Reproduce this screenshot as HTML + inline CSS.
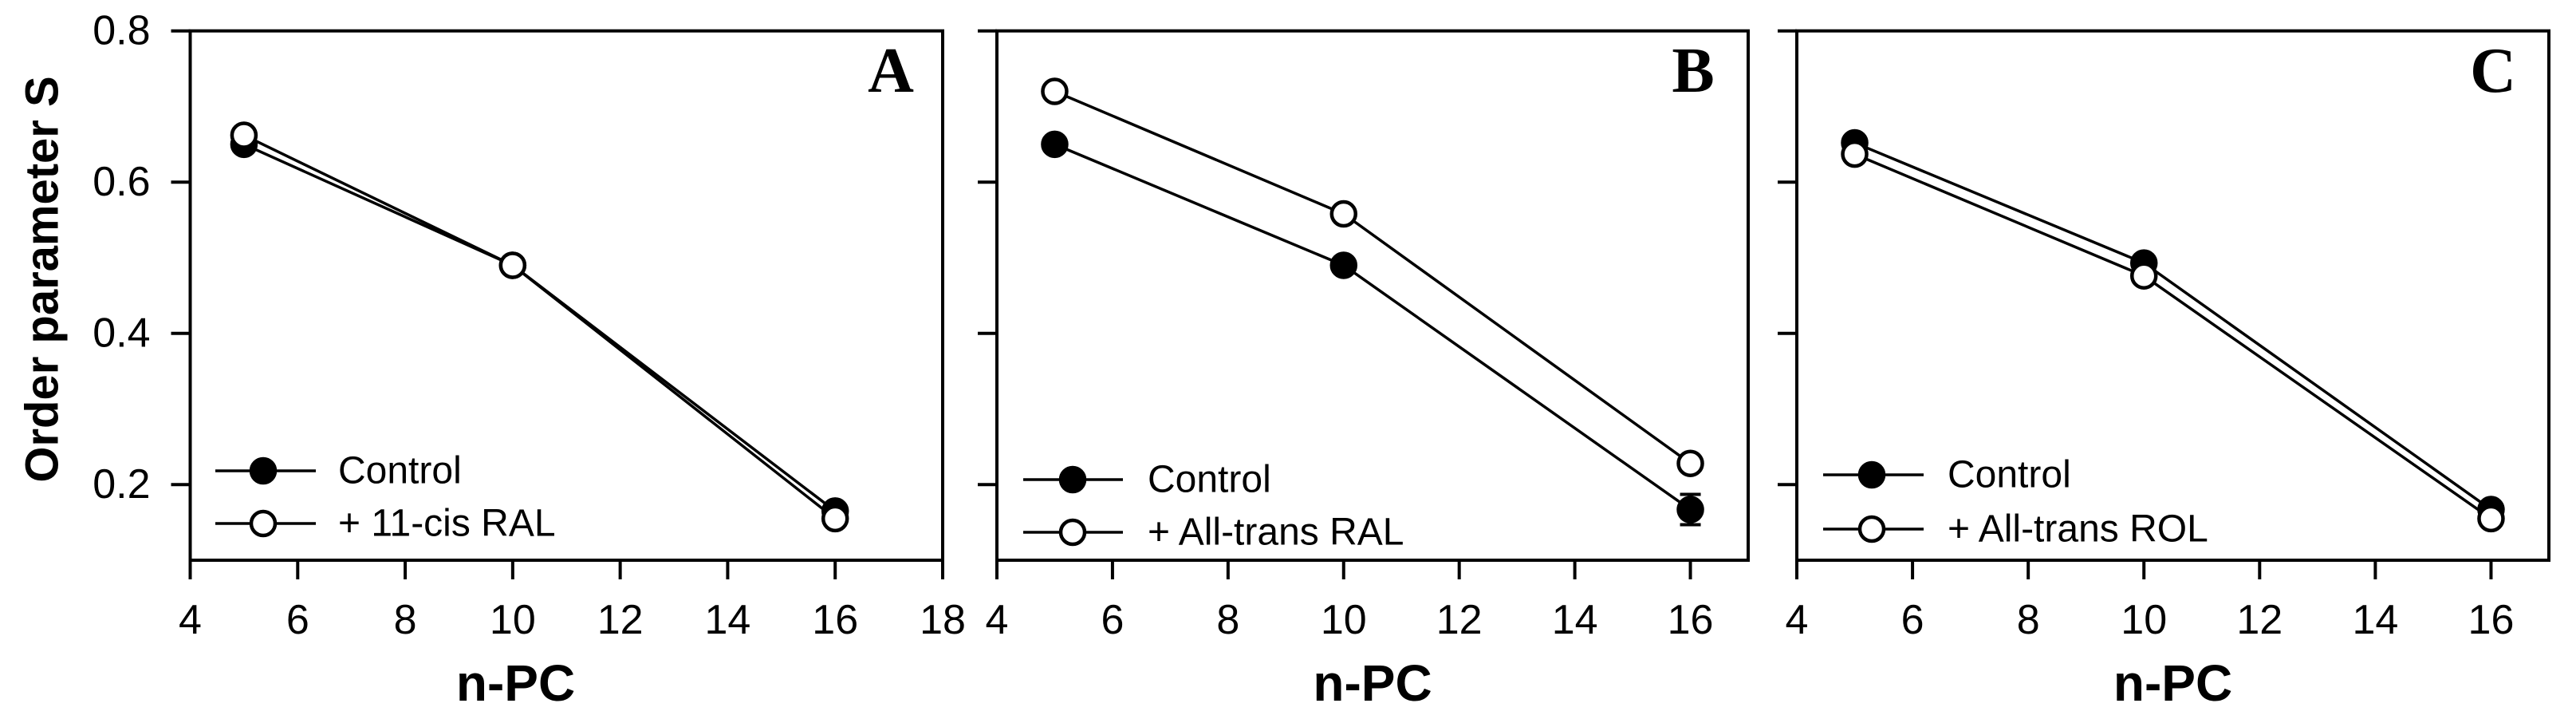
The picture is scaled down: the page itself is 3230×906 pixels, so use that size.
<!DOCTYPE html>
<html><head><meta charset="utf-8"><style>
html,body{margin:0;padding:0;background:#fff}
svg{display:block}
text{font-family:"Liberation Sans",Arial,sans-serif;fill:#000}
</style></head><body>
<svg id="chart" width="3230" height="906" viewBox="0 0 3230 906" xmlns="http://www.w3.org/2000/svg">
<text x="53" y="350" font-size="58" font-weight="bold" text-anchor="middle" transform="rotate(-90 53 350)" dominant-baseline="central">Order parameter S</text>
</svg>
<script>
const xCats = [5, 10, 16];
const yTicks = [0.2, 0.4, 0.6, 0.8];
const yTickLabels = ["0.2", "0.4", "0.6", "0.8"];
const xTicksA = [4, 6, 8, 10, 12, 14, 16, 18];
const xTicksBC = [4, 6, 8, 10, 12, 14, 16];
const controlA = [0.650, 0.490, 0.165];
const treatA = [0.662, 0.490, 0.155];
const controlB = [0.650, 0.490, 0.167];
const controlBErr = [0.006, 0.006, 0.020];
const treatB = [0.720, 0.558, 0.228];
const controlC = [0.652, 0.493, 0.167];
const treatC = [0.637, 0.476, 0.155];
const panelLetters = ["A", "B", "C"];
const legendLabels = ["+ 11-cis RAL", "+ All-trans RAL", "+ All-trans ROL"];

const NS = "http://www.w3.org/2000/svg";
const svg = document.getElementById('chart');
function mk(tag, attrs, parent){
  const e = document.createElementNS(NS, tag);
  for (const k in attrs) e.setAttribute(k, attrs[k]);
  (parent || svg).appendChild(e);
  return e;
}
const Y0 = 702, Y1 = 38.7, YMIN = 0.1, YMAX = 0.8;
function yS(v){ return Y0 - (v - YMIN) / (YMAX - YMIN) * (Y0 - Y1); }

const panels = [
  {left:238.5, right:1182, xmin:4, xmax:18, ticks:xTicksA, c:controlA, t:treatA, err:null, letterX:1117, leg:{x0:270, x1:396, mx:330, tx:424, y1:590, y2:656}, showY:true},
  {left:1250, right:2192, xmin:4, xmax:17, ticks:xTicksBC, c:controlB, t:treatB, err:controlBErr, letterX:2123, leg:{x0:1283, x1:1408, mx:1345, tx:1439, y1:601, y2:667}, showY:false},
  {left:2253, right:3196, xmin:4, xmax:17, ticks:xTicksBC, c:controlC, t:treatC, err:null, letterX:3126, leg:{x0:2286, x1:2412, mx:2347, tx:2442, y1:595, y2:663}, showY:false}
];

panels.forEach((p, i) => {
  const g = mk('g', {});
  
  
  const xS = v => p.left + (v - p.xmin) / (p.xmax - p.xmin) * (p.right - p.left);
  const frame = mk('rect', {x:p.left, y:Y1, width:p.right - p.left, height:Y0 - Y1, fill:'none', stroke:'#000', 'stroke-width':4}, g);
  
  
  yTicks.forEach((v, k) => {
    const tk = mk('line', {x1:p.left - 24, x2:p.left, y1:yS(v), y2:yS(v), stroke:'#000', 'stroke-width':4}, g);
    
    
    if (p.showY) {
      const tl = mk('text', {x:p.left - 50, y:yS(v), 'font-size':52, 'text-anchor':'end', 'dominant-baseline':'central'}, g);
      tl.textContent = yTickLabels[k];
      
      
    }
  });
  p.ticks.forEach(v => {
    const tk = mk('line', {x1:xS(v), x2:xS(v), y1:Y0, y2:Y0 + 24, stroke:'#000', 'stroke-width':4}, g);
    
    
    const tl = mk('text', {x:xS(v), y:777, 'font-size':52, 'text-anchor':'middle', 'dominant-baseline':'central'}, g);
    tl.textContent = String(v);
    
    
  });
  const xt = mk('text', {x:(p.left + xS(17)) / 2 + (i === 0 ? -30 : 0), y:878, 'font-size':64, 'font-weight':'bold', 'text-anchor':'middle'}, g);
  xt.textContent = 'n-PC';
  
  
  const lt = mk('text', {x:p.letterX, y:115, 'font-size':80, 'font-weight':'bold', 'text-anchor':'middle', style:'font-family:"Liberation Serif",serif'}, g);
  lt.textContent = panelLetters[i];
  
  

  [[p.c, '#000', 'control'], [p.t, '#fff', 'treatment']].forEach(([vals, fill, nm]) => {
    const pts = xCats.map((x, k) => xS(x) + ',' + yS(vals[k])).join(' ');
    const ln = mk('polyline', {points:pts, fill:'none', stroke:'#000', 'stroke-width':3.5}, g);
    
    
  });
  [[p.c, '#000', 'control', p.err], [p.t, '#fff', 'treatment', null]].forEach(([vals, fill, nm, err]) => {
    xCats.forEach((x, k) => {
      if (err) {
        const eb = mk('line', {x1:xS(x), x2:xS(x), y1:yS(vals[k] + err[k]), y2:yS(vals[k] - err[k]), stroke:'#000', 'stroke-width':4}, g);
        
        
        [err[k], -err[k]].forEach(d => {
          const cap = mk('line', {x1:xS(x) - 13, x2:xS(x) + 13, y1:yS(vals[k] + d), y2:yS(vals[k] + d), stroke:'#000', 'stroke-width':4}, g);
          
          
        });
      }
      const c = mk('circle', {cx:xS(x), cy:yS(vals[k]), r:15, fill:fill, stroke:'#000', 'stroke-width':4.5}, g);
      
      
    });
  });
  const L = p.leg;
  [[L.y1, '#000', 'Control', 'legend-control'], [L.y2, '#fff', legendLabels[i], 'legend-treatment']].forEach(([yy, fill, label, nm]) => {
    const lg = mk('g', {}, g);
    
    
    mk('line', {x1:L.x0, x2:L.x1, y1:yy, y2:yy, stroke:'#000', 'stroke-width':3.5}, lg);
    mk('circle', {cx:L.mx, cy:yy, r:15, fill:fill, stroke:'#000', 'stroke-width':4.5}, lg);
    const tx = mk('text', {x:L.tx, y:yy, 'font-size':48, 'dominant-baseline':'central'}, lg);
    tx.textContent = label;
  });
});
</script>
</body></html>
